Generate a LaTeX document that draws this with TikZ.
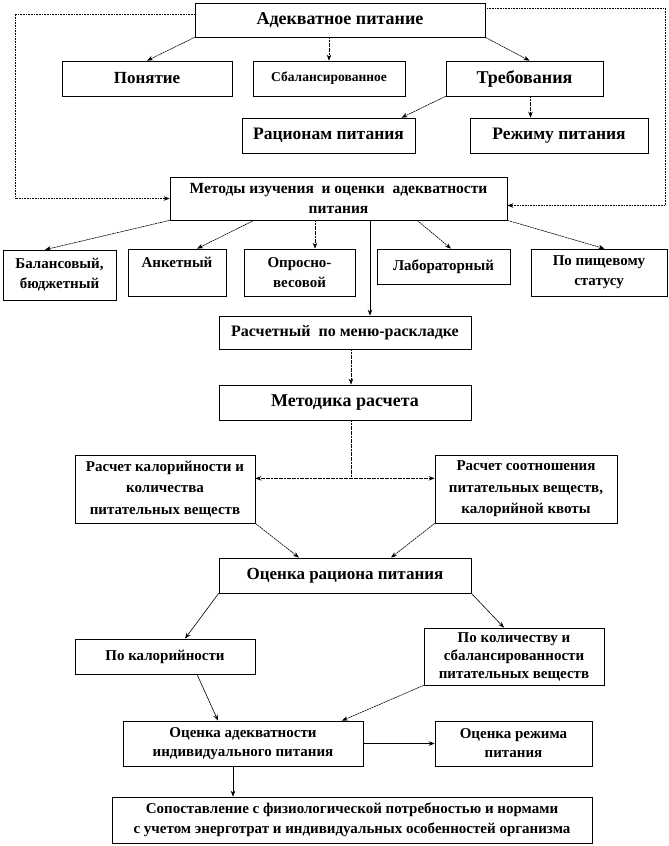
\documentclass[tikz,border=0pt]{standalone}
\usepackage{fontspec}
\setmainfont{Liberation Serif}
\usetikzlibrary{arrows.meta,calc}
\newcommand{\fz}[2]{\fontsize{#1}{#2}\selectfont\bfseries}
\begin{document}
\begin{tikzpicture}[x=1pt,y=-1pt,
  box/.style={draw=black,line width=0.7pt,fill=white,inner sep=2pt,align=center,
    minimum width=#1},
  box/.default=10pt,
  conn/.style={line width=0.6pt,dash pattern=on 2pt off 0.6pt,-{Stealth[length=6pt,width=4.5pt]}},
  sconn/.style={line width=0.6pt,-{Stealth[length=6pt,width=4.5pt]}},
  fb/.style={line width=0.6pt,densely dotted,-{Stealth[length=6pt,width=4.5pt]}}]
\useasboundingbox (0,0) rectangle (669,846);
% nodes
\node[box=290pt,minimum height=34pt,font=\fz{18}{20}] (ad) at (340,20) {Адекватное питание};
\node[box=170pt,minimum height=35pt,font=\fz{17}{20}] (pon) at (147,78.5) {Понятие};
\node[box=152pt,minimum height=35pt,font=\fz{13.5}{16}] (sbal) at (329,78.5) {Сбалансированное};
\node[box=157pt,minimum height=35pt,font=\fz{18}{20}] (treb) at (524.5,78.5) {Требования};
\node[box=173pt,minimum height=35pt,font=\fz{17.5}{20}] (rac) at (328.5,135.5) {Рационам питания};
\node[box=178pt,minimum height=35pt,font=\fz{17.5}{20}] (rej) at (559,135.5) {Режиму питания};
\node[box=337pt,minimum height=43pt,font=\fz{15.5}{20}] (met) at (338.5,198.5) {Методы изучения\ \ и оценки\ \ адекватности\\питания};
\node[box=113pt,minimum height=50pt,font=\fz{15}{20}] (bal) at (59.5,275) {Балансовый,\\бюджетный};
\node[box=98pt,minimum height=47pt] (ank) at (177,272.5) {};
\node[anchor=north,font=\fz{15}{20}] (ankt) at (177,254) {Анкетный};
\node[box=111pt,minimum height=47pt,font=\fz{15}{20}] (opr) at (299.5,272.5) {Опросно-\\весовой};
\node[box=133pt,minimum height=35pt,font=\fz{15}{20}] (lab) at (443.5,266.5) {Лабораторный};
\node[box=136pt,minimum height=47pt,font=\fz{15}{20}] (pish) at (599,272.5) {По пищевому\\статусу};
\node[box=252pt,minimum height=33pt,font=\fz{16}{18}] (rasch) at (345,332.5) {Расчетный\ \ по меню-раскладке};
\node[box=252pt,minimum height=35pt,font=\fz{18}{20}] (metod) at (345,402.5) {Методика расчета};
\node[box=180pt,minimum height=68pt,font=\fz{15}{21.5}] (rk) at (165,489) {Расчет калорийности и\\количества\\питательных веществ};
\node[box=182pt,minimum height=68pt,font=\fz{15}{21.5}] (rs) at (526,489) {Расчет соотношения\\питательных веществ,\\калорийной квоты};
\node[box=252pt,minimum height=35pt,font=\fz{17}{20}] (ocr) at (345,575.5) {Оценка рациона питания};
\node[box=180pt,minimum height=35pt,font=\fz{15}{18}] (pk) at (165,656.5) {По калорийности};
\node[box=180pt,minimum height=57pt,font=\fz{15}{18}] (pkol) at (514,656.5) {По количеству и\\сбалансированности\\питательных веществ};
\node[box=240pt,minimum height=45pt,font=\fz{15}{19}] (oad) at (243,743.5) {Оценка адекватности\\индивидуального питания};
\node[box=157pt,minimum height=45pt,font=\fz{15}{19}] (orj) at (513.5,743.5) {Оценка режима\\питания};
\node[box=480pt,minimum height=46pt,font=\fz{15}{20}] (sop) at (352,820) {Сопоставление с физиологической потребностью и нормами\\с учетом энерготрат и индивидуальных особенностей организма};
% feedback loops
\coordinate (fl) at (15,0);
\coordinate (fr) at (665,0);
\coordinate (metr) at ([yshift=-7pt]met.east);
\draw[fb] ([yshift=6pt]ad.west) -| (fl |- met.west) -- (met.west);
\draw[fb] ([yshift=12pt]ad.east) -| (fr |- metr) -- (metr);
% top connectors
\draw[conn] (ad.south west) -- (pon.north);
\draw[conn] (sbal.north |- ad.south) -- (sbal.north);
\draw[conn] (ad.south east) -- ([xshift=5pt]treb.north);
\draw[conn] (treb.south west) -- ([xshift=73pt]rac.north);
\coordinate (trs) at ([xshift=6pt]treb.south);
\draw[conn] (trs) -- (trs |- rej.north);
% methods
\draw[conn] (met.south west) -- ([xshift=-14.5pt]bal.north);
\draw[conn] ([xshift=-84.5pt]met.south) -- ([xshift=20pt]ank.north);
\coordinate (opn) at ([xshift=15.5pt]opr.north);
\draw[conn] (opn |- met.south) -- (opn);
\coordinate (ran) at ([xshift=25pt]rasch.north);
\draw[sconn] (ran |- met.south) -- (ran);
\draw[conn] ([xshift=78.5pt]met.south) -- ([xshift=7.5pt]lab.north);
\draw[conn] (met.south east) -- ([xshift=5.5pt]pish.north);
% calculation
\draw[conn] ([xshift=6pt]rasch.south) -- ([xshift=6pt]metod.north);
\coordinate (sp) at ($(metod.south)+(6,58)$);
\draw[line width=0.6pt,dash pattern=on 2pt off 0.6pt] ([xshift=6pt]metod.south) -- (sp);
\draw[conn] (sp) -- (sp -| rk.east);
\draw[conn] (sp) -- (sp -| rs.west);
\draw[conn] (rk.south east) -- ([xshift=-46pt]ocr.north);
\draw[conn] (rs.south west) -- ([xshift=46pt]ocr.north);
% evaluation
\draw[sconn] (ocr.south west) -- ([xshift=20pt]pk.north);
\draw[sconn] (ocr.south east) -- ([xshift=-10pt]pkol.north);
\draw[sconn] ([xshift=32pt]pk.south) -- ([xshift=-25pt]oad.north);
\draw[conn] (pkol.south west) -- ([xshift=99pt]oad.north);
\draw[sconn] (oad.east) -- (orj.west);
\coordinate (oas) at ([xshift=-10pt]oad.south);
\draw[sconn] (oas) -- (oas |- sop.north);
\end{tikzpicture}
\end{document}
